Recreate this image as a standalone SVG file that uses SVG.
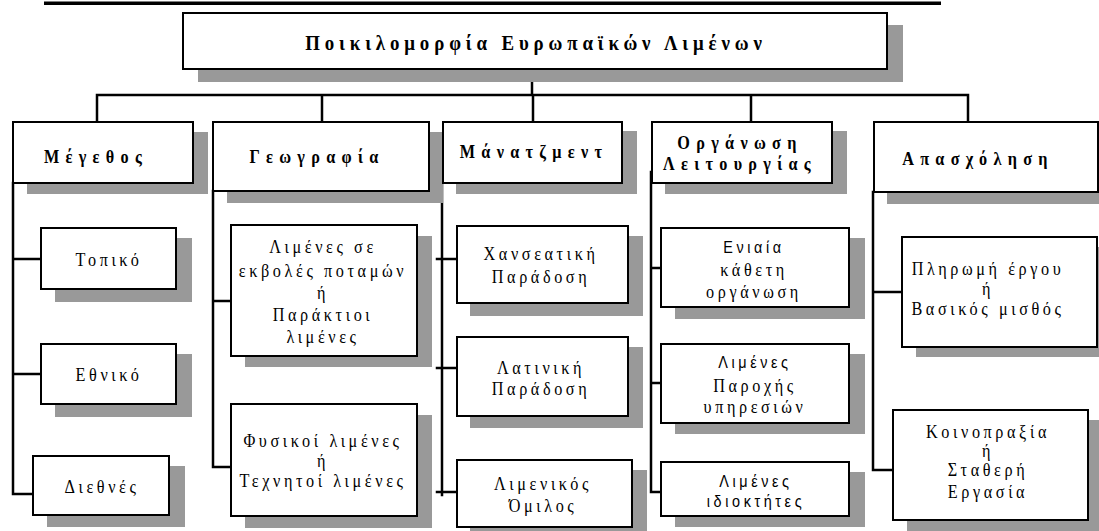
<svg xmlns="http://www.w3.org/2000/svg" width="1099" height="531" viewBox="0 0 1099 531">
  <style>
    .box { fill: #fff; stroke: #000; stroke-width: 2; }
    .sh { fill: #999; }
    .ln { stroke: #000; stroke-width: 2.5; fill: none; stroke-linecap: square; }
    text { font-family: "Liberation Serif", "Times New Roman", serif; font-size: 18px; letter-spacing: 4px; text-anchor: middle; fill: #000; }
    .s { font-family: "Liberation Sans", Arial, sans-serif; font-size: 16px; letter-spacing: 4px; }
    .h { font-weight: bold; font-size: 18px; letter-spacing: 7px; }
    .ti { font-weight: bold; font-size: 21px; letter-spacing: 5.4px; }
  </style>

  <!-- underline of the heading above the chart -->
  <rect x="44" y="1.5" width="897" height="3.5" fill="#000"/>

  <g id="connectors" class="ln">
    <path d="M532 69V95M97 95H968M97 95V122M322 95V122M533 95V122M751 95V122M968 95V122"/>
    <path d="M13 183V494M13 259H41M13 374H41M13 494H33"/>
    <path d="M213 191V467M213 301H231M213 467H231"/>
    <path d="M442 183V495M437 259H457M437 368H457M437 492H457"/>
    <path d="M651 172V492M651 268H661M651 383H661M651 492H661"/>
    <path d="M873 192V470M873 292H902M873 470H893"/>
  </g>

  <g id="title">
    <rect class="sh" x="198" y="25" width="705" height="57"/>
    <rect class="box" x="183" y="13" width="704" height="56"/>
    <text class="ti" transform="translate(536 0) scale(0.9 1)" y="50">Ποικιλομορφία Ευρωπαϊκών Λιμένων</text>
  </g>

  <g id="size">
    <rect class="sh" x="27" y="132" width="181" height="62"/>
    <rect class="box" x="13" y="122" width="180" height="61"/>
    <text class="h" transform="translate(96 0) scale(0.9 1)" y="163">Μέγεθος</text>
  </g>
  <g id="geography">
    <rect class="sh" x="227" y="132" width="216" height="71"/>
    <rect class="box" x="213" y="122" width="216" height="69"/>
    <text class="h" transform="translate(317 0) scale(0.9 1)" y="163">Γεωγραφία</text>
  </g>
  <g id="management">
    <rect class="sh" x="456" y="131" width="181" height="63"/>
    <rect class="box" x="443" y="122" width="179" height="61"/>
    <text class="h" transform="translate(534 0) scale(0.9 1)" y="158">Μάνατζμεντ</text>
  </g>
  <g id="organisation">
    <rect class="sh" x="665" y="131" width="182" height="63"/>
    <rect class="box" x="652" y="122" width="180" height="61"/>
    <text class="h" transform="translate(740 0) scale(0.9 1)"><tspan x="0" y="149">Οργάνωση</tspan><tspan x="0" y="170">Λειτουργίας</tspan></text>
  </g>
  <g id="employment">
    <rect class="sh" x="887" y="132" width="230" height="72"/>
    <rect class="box" x="874" y="122" width="224" height="70"/>
    <text class="h" transform="translate(978 0) scale(0.9 1)" y="165">Απασχόληση</text>
  </g>

  <g id="local">
    <rect class="sh" x="55" y="238" width="137" height="64"/>
    <rect class="box" x="41" y="228" width="135" height="61"/>
    <text transform="translate(109 0) scale(0.9 1)" y="266">Τοπικό</text>
  </g>
  <g id="national">
    <rect class="sh" x="55" y="354" width="137" height="63"/>
    <rect class="box" x="41" y="344" width="135" height="60"/>
    <text transform="translate(109 0) scale(0.9 1)" y="381">Εθνικό</text>
  </g>
  <g id="international">
    <rect class="sh" x="47" y="466" width="138" height="61"/>
    <rect class="box" x="33" y="456" width="136" height="59"/>
    <text transform="translate(102 0) scale(0.9 1)" y="493">Διεθνές</text>
  </g>

  <g id="estuary">
    <rect class="sh" x="245" y="236" width="187" height="131"/>
    <rect class="box" x="231" y="225" width="186" height="131"/>
    <text transform="translate(323 0) scale(0.9 1)"><tspan x="0" y="253">Λιμένες σε</tspan><tspan x="0" y="277">εκβολές ποταμών</tspan><tspan x="0" y="299">ή</tspan><tspan x="0" y="321">Παράκτιοι</tspan><tspan x="0" y="343">λιμένες</tspan></text>
  </g>
  <g id="natural">
    <rect class="sh" x="245" y="415" width="187" height="113"/>
    <rect class="box" x="231" y="404" width="186" height="112"/>
    <text transform="translate(323 0) scale(0.9 1)"><tspan x="0" y="447">Φυσικοί λιμένες</tspan><tspan x="0" y="467">ή</tspan><tspan x="0" y="487">Τεχνητοί λιμένες</tspan></text>
  </g>

  <g id="hanseatic">
    <rect class="sh" x="470" y="236" width="173" height="80"/>
    <rect class="box" x="457" y="226" width="171" height="77"/>
    <text transform="translate(541 0) scale(0.9 1)"><tspan x="0" y="260">Χανσεατική</tspan><tspan x="0" y="283">Παράδοση</tspan></text>
  </g>
  <g id="latin">
    <rect class="sh" x="470" y="347" width="173" height="81"/>
    <rect class="box" x="457" y="337" width="171" height="79"/>
    <text transform="translate(541 0) scale(0.9 1)"><tspan x="0" y="374">Λατινική</tspan><tspan x="0" y="395">Παράδοση</tspan></text>
  </g>
  <g id="port-group">
    <rect class="sh" x="470" y="470" width="177" height="65"/>
    <rect class="box" x="457" y="460" width="175" height="67"/>
    <text transform="translate(543 0) scale(0.9 1)"><tspan x="0" y="490">Λιμενικός</tspan><tspan x="0" y="512">Όμιλος</tspan></text>
  </g>

  <g id="vertical">
    <rect class="sh" x="675" y="238" width="190" height="81"/>
    <rect class="box" x="661" y="228" width="188" height="79"/>
    <text transform="translate(754 0) scale(0.9 1)"><tspan class="s" x="0" y="253">Ενιαία</tspan><tspan x="0" y="276">κάθετη</tspan><tspan x="0" y="298">οργάνωση</tspan></text>
  </g>
  <g id="service">
    <rect class="sh" x="675" y="354" width="190" height="80"/>
    <rect class="box" x="661" y="344" width="188" height="79"/>
    <text transform="translate(755 0) scale(0.9 1)"><tspan class="s" x="0" y="368">Λιμένες</tspan><tspan x="0" y="392">Παροχής</tspan><tspan x="0" y="413">υπηρεσιών</tspan></text>
  </g>
  <g id="landlord">
    <rect class="sh" x="675" y="472" width="190" height="55"/>
    <rect class="box" x="661" y="462" width="188" height="54"/>
    <text transform="translate(756 0) scale(0.9 1)"><tspan class="s" x="0" y="487">Λιμένες</tspan><tspan class="s" x="0" y="507">ιδιοκτήτες</tspan></text>
  </g>

  <g id="piece-rate">
    <rect class="sh" x="916" y="247" width="190" height="110"/>
    <rect class="box" x="902" y="237" width="195" height="110"/>
    <text transform="translate(988 0) scale(0.9 1)"><tspan x="0" y="275">Πληρωμή έργου</tspan><tspan x="0" y="295">ή</tspan><tspan x="0" y="315">Βασικός μισθός</tspan></text>
  </g>
  <g id="pool">
    <rect class="sh" x="907" y="420" width="195" height="112"/>
    <rect class="box" x="893" y="410" width="195" height="110"/>
    <text transform="translate(988 0) scale(0.9 1)"><tspan x="0" y="438">Κοινοπραξία</tspan><tspan x="0" y="457">ή</tspan><tspan x="0" y="476">Σταθερή</tspan><tspan x="0" y="498">Εργασία</tspan></text>
  </g>
</svg>
